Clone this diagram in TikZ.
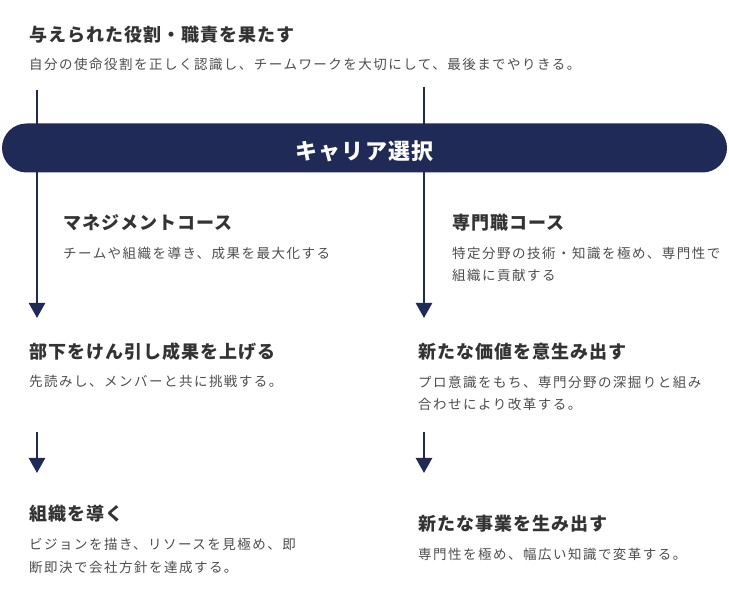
\documentclass[tikz,border=0pt]{standalone}
\usepackage{fontspec}
\usetikzlibrary{positioning,arrows.meta}
\newfontfamily\headfont{Noto Sans CJK JP}[LetterSpace=5.5]
\newfontfamily\bodyfont{Noto Sans CJK JP}[LetterSpace=11]
\newfontfamily\barfont{Noto Sans CJK JP}[LetterSpace=5.5]
\definecolor{barnavy}{HTML}{1F2A56}
\definecolor{headgray}{HTML}{333333}
\definecolor{bodygray}{HTML}{4D4D4D}

\begin{document}
\begin{tikzpicture}[x=1pt,y=-1pt,>={Triangle[width=16pt,length=15pt]},
    head node/.style={anchor=west,inner sep=0pt,text=headgray,font=\headfont\bfseries\fontsize{18}{22}\selectfont,text height=15.8pt,text depth=2.2pt},
    body node/.style={inner sep=0pt,align=left,text=bodygray,font=\bodyfont\fontsize{13.5}{22.5}\selectfont},
    flow line/.style={draw=barnavy,line width=2.5pt}]

    \useasboundingbox (0,0) rectangle (729,609);

    % top
    \node[head node] (1) at (29,35) {与えられた役割・職責を果たす};
    \node[body node] (2) [below=14pt of 1.south west, anchor=north west] {自分の使命役割を正しく認識し、チームワークを大切にして、最後までやりきる。};

    % arrows behind the bar
    \coordinate (l0) at (37,90);
    \coordinate (r0) at (424,87);
    \coordinate (l1) at (37,318);
    \coordinate (r1) at (424,318);
    \coordinate (l2) at (37,432);
    \coordinate (r2) at (424,432);
    \coordinate (l3) at (37,473);
    \coordinate (r3) at (424,473);
    \draw[flow line,->] (l0) -- (l1);
    \draw[flow line,->] (r0) -- (r1);
    \draw[flow line,->] (l2) -- (l3);
    \draw[flow line,->] (r2) -- (r3);

    \node[fill=barnavy,text=white,rounded corners=24.5pt,minimum width=725pt,minimum height=49pt,inner sep=0pt,
          font=\barfont\bfseries\fontsize{22}{26}\selectfont,text height=25pt,text depth=2.2pt] (3) at (364.5,148) {キャリア選択};

    % courses
    \node[head node] (4) at (63,223) {マネジメントコース};
    \node[body node] (5) [below=14.5pt of 4.south west, anchor=north west] {チームや組織を導き、成果を最大化する};
    \node[head node] (6) at (452,223) {専門職コース};
    \node[body node] (7) [below=14.5pt of 6.south west, anchor=north west] {特定分野の技術・知識を極め、専門性で\\組織に貢献する};

    % second step
    \node[head node] (8) at (29,352) {部下をけん引し成果を上げる};
    \node[body node] (9) [below=13.5pt of 8.south west, anchor=north west] {先読みし、メンバーと共に挑戦する。};
    \node[head node] (10) at (418,352) {新たな価値を意生み出す};
    \node[body node] (11) [below=14.5pt of 10.south west, anchor=north west] {プロ意識をもち、専門分野の深掘りと組み\\合わせにより改革する。};

    % third step
    \node[head node] (12) at (29,513.5) {組織を導く};
    \node[body node] (13) [below=15.5pt of 12.south west, anchor=north west] {ビジョンを描き、リソースを見極め、即\\断即決で会社方針を達成する。};
    \node[head node] (14) at (418,524) {新たな事業を生み出す};
    \node[body node] (15) [below=14.5pt of 14.south west, anchor=north west] {専門性を極め、幅広い知識で変革する。};
\end{tikzpicture}
\end{document}
